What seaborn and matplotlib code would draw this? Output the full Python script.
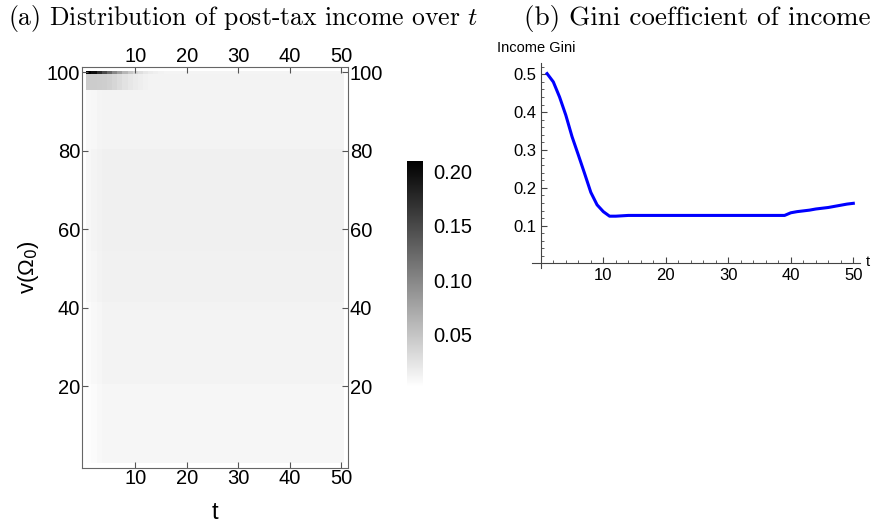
import numpy as np
import pandas as pd
import matplotlib
matplotlib.use("Agg")
import matplotlib.pyplot as plt
import seaborn as sns
from matplotlib.colors import LinearSegmentedColormap
from matplotlib.ticker import MultipleLocator, FormatStrFormatter

# time steps and income percentiles (rows top -> bottom)
t_steps = list(range(1, 51))
percentiles = list(range(100, 0, -1))

# percentile bands of the heatmap; "early" = values for t=1,2,...; "late" = value afterwards
band_lo = [100, 96, 81, 55, 42, 21, 1]
band_hi = [100, 99, 95, 80, 54, 41, 20]
band_early = [
    [0.21, 0.20, 0.175, 0.15, 0.125, 0.10, 0.08, 0.062, 0.048, 0.036, 0.028, 0.022, 0.018, 0.015, 0.013],
    [0.044, 0.044, 0.043, 0.042, 0.040, 0.036, 0.031, 0.026, 0.022, 0.019, 0.016, 0.014],
    [0.008, 0.009, 0.011],
    [0.009, 0.011, 0.013],
    [0.008, 0.010, 0.012],
    [0.006, 0.008, 0.010],
    [0.004, 0.006, 0.008],
]
band_late = [0.011, 0.012, 0.0125, 0.0148, 0.0138, 0.0118, 0.0098]

gini = [0.502, 0.480, 0.440, 0.392, 0.335, 0.287, 0.238, 0.188, 0.155, 0.137,
        0.125, 0.125, 0.126, 0.127, 0.127, 0.127, 0.127, 0.127, 0.127, 0.127,
        0.127, 0.127, 0.127, 0.127, 0.127, 0.127, 0.127, 0.127, 0.127, 0.127,
        0.127, 0.127, 0.127, 0.127, 0.127, 0.127, 0.127, 0.127, 0.127, 0.134,
        0.137, 0.139, 0.141, 0.144, 0.146, 0.148, 0.151, 0.154, 0.157, 0.159]

x_ticks = [10, 20, 30, 40, 50]
y_ticks = [20, 40, 60, 80, 100]
cbar_ticks = [0.05, 0.10, 0.15, 0.20]

plt.rcParams['font.family'] = ['Liberation Sans', 'DejaVu Sans']

rows = []
for p in percentiles:
    b = next(k for k in range(len(band_lo)) if band_lo[k] <= p <= band_hi[k])
    early = band_early[b]
    rows.append([early[i] if i < len(early) else band_late[b] for i in range(len(t_steps))])
share = pd.DataFrame(rows, index=percentiles, columns=t_steps)

W, H = 874, 523
fig = plt.figure(figsize=(W / 100, H / 100), dpi=100)

def box(x0, y0, x1, y1):
    return [x0 / W, 1 - y1 / H, (x1 - x0) / W, (y1 - y0) / H]

# (a) heatmap
ax1 = fig.add_axes(box(81.7, 67, 348.3, 467.7))
cax = fig.add_axes(box(407.3, 160.7, 423.3, 387))
gray_cmap = LinearSegmentedColormap.from_list("wb", ["white", "black"])
sns.heatmap(share, ax=ax1, cbar_ax=cax, cmap=gray_cmap, vmin=0.002, vmax=0.21,
            xticklabels=False, yticklabels=False)
ax1.set_xlim(-0.9, 50.9)
ax1.set_ylim(101.2, -0.9)
ax1.set_xticks([t - 0.5 for t in x_ticks])
ax1.set_xticklabels([str(t) for t in x_ticks])
ax1.set_yticks([100.5 - p for p in y_ticks])
ax1.set_yticklabels([str(p) for p in y_ticks], rotation=0)
ax1.tick_params(top=True, labeltop=True, right=True, labelright=True, direction='in',
                length=4, labelsize=14.5, color='#555555', pad=1)
for s in ax1.spines.values():
    s.set_visible(True)
    s.set_color('#666666')
ax1.set_xlabel('t', fontsize=17, labelpad=10)
ax1.set_ylabel(r'v(Ω$_0$)', fontsize=16, labelpad=4, math_fontfamily='dejavusans')

cbar = ax1.collections[0].colorbar
cbar.outline.set_visible(False)
cax.yaxis.set_major_formatter(FormatStrFormatter('%.2f'))
cax.set_yticks(cbar_ticks)
cax.tick_params(length=0, labelsize=14.5, pad=7)

# (b) Gini line
ax2 = fig.add_axes(box(531.7, 63, 860, 268))
sns.lineplot(x=t_steps, y=gini, ax=ax2, color='blue', lw=2.2)
ax2.set_xlim(-1.46, 51.07)
ax2.set_ylim(-0.012, 0.53)
ax2.spines['left'].set_position(('data', 0))
ax2.spines['bottom'].set_position(('data', 0))
ax2.spines['top'].set_visible(False)
ax2.spines['right'].set_visible(False)
for s in ['left', 'bottom']:
    ax2.spines[s].set_color('#444444')
ax2.set_xticks(x_ticks)
ax2.set_yticks([0.1, 0.2, 0.3, 0.4, 0.5])
ax2.yaxis.set_major_formatter(FormatStrFormatter('%.1f'))
ax2.xaxis.set_minor_locator(MultipleLocator(2))
ax2.yaxis.set_minor_locator(MultipleLocator(0.02))
ax2.tick_params(which='major', direction='in', length=4, labelsize=12, color='#444444', pad=3)
ax2.tick_params(which='minor', direction='in', length=2, color='#444444')
ax2.set_facecolor('none')
fig.text(497 / W, 1 - 48 / H, 'Income Gini', fontsize=10.5, va='center', ha='left')
fig.text(866 / W, 1 - 262 / H, 't', fontsize=10.5, va='center', ha='left')

# panel titles
fig.text(8 / W, 1 - 25 / H, r'(a) Distribution of post-tax income over $t$',
         family='cmr10', math_fontfamily='cm', fontsize=18.5, va='baseline', ha='left')
fig.text(870 / W, 1 - 25 / H, r'(b) Gini coefficient of income',
         family='cmr10', math_fontfamily='cm', fontsize=19.5, va='baseline', ha='right')

fig.savefig("out.png", dpi=100)
